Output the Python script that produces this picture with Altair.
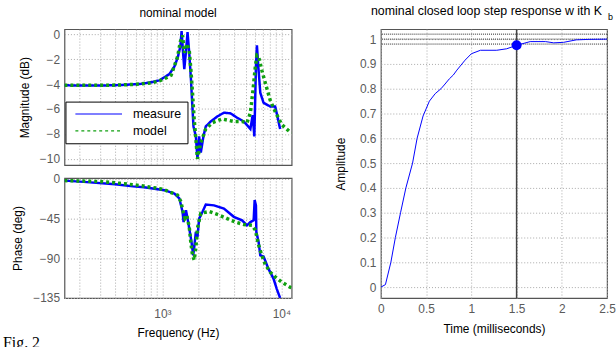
import altair as alt
import pandas as pd

# ---------------- data ----------------
mag_meas_f = [150, 203, 299, 438, 643, 810, 944, 1144, 1259, 1341,
              1413, 1448, 1490, 1526, 1576, 1625, 1679, 1735, 1789, 1823,
              1909, 1968, 2034, 2101, 2209, 2313, 2549, 2889, 3286, 3737,
              4242, 4823, 5485, 5732, 5923, 6038, 6107, 6226, 6395, 6646,
              7079, 8051, 8862, 9261, 9754]
mag_meas_db = [-4.1, -4.12, -4.12, -4.08, -4.0, -3.85, -3.7, -3.2, -2.6, -1.9,
               -1.0, 0.24, -1.5, -2.8, -1.4, 0.16, -1.5, -3.6, -6.0, -7.4,
               -8.2, -10.0, -8.2, -9.5, -8.2, -7.4, -7.0, -6.6, -6.3, -6.35,
               -6.7, -7.0, -7.6, -6.5, -8.2, -4.7, -2.6, -0.9, -2.6, -4.7,
               -5.5, -5.8, -5.8, -6.6, -7.6]

mag_model_f = [150, 299, 438, 643, 810, 944, 1050, 1182, 1341, 1413,
               1476, 1526, 1606, 1679, 1735, 1789, 1848, 1909, 1968, 2101,
               2313, 2626, 3181, 3981, 4669, 5138, 5485, 5766, 6038, 6226,
               6432, 6853, 7314, 8051, 8862, 10060, 11820, 12190]
mag_model_db = [-4.1, -4.1, -4.08, -4.0, -3.9, -3.75, -3.55, -3.3, -1.8, -0.6,
                -0.1, -1.5, -0.77, -1.3, -2.9, -4.7, -6.85, -8.4, -10.0, -8.7,
                -7.6, -7.1, -6.8, -7.0, -7.0, -7.1, -6.3, -4.5, -2.6, -1.7,
                -1.8, -2.9, -3.9, -5.3, -6.2, -7.25, -7.85, -7.9]

ph_meas_f = [150, 217, 400, 565, 700, 944, 1039, 1259, 1386, 1476,
             1505, 1576, 1625, 1679, 1755, 1813, 1848, 1909, 1968, 2034,
             2167, 2313, 2712, 3286, 3981, 4669, 5138, 5485, 5844, 5957,
             6107, 6155, 6432, 6646, 7079, 7794, 8577, 9138, 9754]
ph_meas_deg = [-2, -3.4, -6, -8.5, -9.5, -12, -12.8, -16.6, -22, -37.5,
               -49, -35.6, -45, -56, -71.6, -86.7, -78, -60, -66, -45,
               -37.5, -29, -30, -33.6, -43, -47, -52.6, -49, -47, -24,
               -30, -60, -71.6, -86.7, -88, -102, -113, -124.6, -135]

ph_model_f = [150, 299, 438, 643, 944, 1039, 1341, 1432, 1476, 1546,
              1606, 1679, 1735, 1789, 1848, 1909, 1968, 2101, 2465, 2985,
              3501, 4114, 4823, 5655, 6038, 6310, 6557, 6853, 7314, 8051,
              8862, 10060, 11820, 12190]
ph_model_deg = [-2, -3, -5, -7.5, -11, -12.5, -18.5, -26, -35, -45,
                -42, -54.5, -73, -86.7, -92, -78, -56, -39, -37, -41,
                -45, -49, -51.7, -52.6, -58, -70, -79, -86.7, -97, -105.7,
                -111, -117, -122.7, -123.5]

step_t = [0, 0.05, 0.11, 0.16, 0.217, 0.276, 0.35, 0.40, 0.466, 0.536,
          0.60, 0.664, 0.70, 0.757, 0.80, 0.84, 0.93, 1.0, 1.1, 1.28,
          1.39, 1.5, 1.65, 1.82, 1.91, 2.02, 2.16, 2.3, 2.5]
step_a = [0, 0.01, 0.1, 0.2, 0.3, 0.4, 0.5, 0.6, 0.69, 0.75,
          0.78, 0.8, 0.815, 0.84, 0.855, 0.875, 0.915, 0.941, 0.955, 0.955,
          0.961, 0.975, 0.99, 0.99, 0.985, 0.987, 0.997, 0.999, 1.0]

settle_levels = [0.98, 1.0, 1.02]
marker_t = [1.5]
marker_a = [0.975]

series_names = ["measure", "model"]
freq_ticks = [200, 300, 400, 500, 600, 700, 800, 900, 1000,
              2000, 3000, 4000, 5000, 6000, 7000, 8000, 9000, 10000]
mag_ticks = [0, -2, -4, -6, -8, -10]
phase_ticks = [0, -45, -90, -135]
amp_ticks = [0, 0.1, 0.2, 0.3, 0.4, 0.5, 0.6, 0.7, 0.8, 0.9, 1.0]
time_ticks = [0, 0.5, 1.0, 1.5, 2.0, 2.5]

# ---------------- styling ----------------
FONT = "Liberation Sans"
BLUE = "#0000ff"
GREEN = "#11a011"

df_mag_meas = pd.DataFrame({"f": mag_meas_f, "v": mag_meas_db, "s": series_names[0]})
df_mag_model = pd.DataFrame({"f": mag_model_f, "v": mag_model_db, "s": series_names[1]})
df_ph_meas = pd.DataFrame({"f": ph_meas_f, "v": ph_meas_deg})
df_ph_model = pd.DataFrame({"f": ph_model_f, "v": ph_model_deg})
df_step = pd.DataFrame({"t": step_t, "a": step_a})
df_levels = pd.DataFrame({"a": settle_levels})
df_marker = pd.DataFrame({"t": marker_t, "a": marker_a})

fscale = alt.Scale(type="log", domain=[150, 12190], nice=False)

legend = alt.Legend(
    title=None, orient="none", legendX=1, legendY=73, direction="vertical",
    fillColor="white", strokeColor="black", padding=6, clipHeight=13,
    rowPadding=4, symbolType="stroke", symbolSize=2209, symbolOffset=3,
    symbolStrokeWidth=1.2, labelOffset=10, labelFontSize=12.5,
    labelFont=FONT, labelColor="black",
)
color_enc = alt.Color("s:N", scale=alt.Scale(domain=series_names, range=[BLUE, GREEN]), legend=legend)
dash_enc = alt.StrokeDash("s:N", scale=alt.Scale(domain=series_names, range=[[1, 0], [3, 3]]), legend=legend)

mag_x = alt.X("f:Q", scale=fscale,
              axis=alt.Axis(values=freq_ticks, labels=False, title=None))
mag_y = alt.Y("v:Q", scale=alt.Scale(domain=[-10.5, 0.4], nice=False, zero=False),
              axis=alt.Axis(values=mag_ticks, title="Magnitude (dB)", titleX=-40,
                            titleBaseline="middle"))

mag_meas = alt.Chart(df_mag_meas).mark_line(strokeWidth=2.5, clip=True).encode(
    x=mag_x, y=mag_y, color=color_enc, strokeDash=dash_enc)
mag_model = alt.Chart(df_mag_model).mark_line(strokeWidth=3.5, clip=True, strokeCap="butt").encode(
    x=mag_x, y=mag_y, color=color_enc, strokeDash=dash_enc)

mag = alt.layer(mag_meas, mag_model).properties(
    width=229, height=137,
    title=alt.TitleParams("nominal model", frame="group", anchor="middle", offset=8.5),
)

ph_x = alt.X("f:Q", scale=fscale,
             axis=alt.Axis(values=freq_ticks, labelFlush=False,
                           labelExpr="datum.value == 1000 ? '10³' : (datum.value == 10000 ? '10⁴' : '')",
                           labelPadding=11, title="Frequency  (Hz)", titleY=35,
                           titleBaseline="middle"))
ph_y = alt.Y("v:Q", scale=alt.Scale(domain=[-135, 1], nice=False, zero=False),
             axis=alt.Axis(values=phase_ticks, title="Phase (deg)", titleX=-47,
                           titleBaseline="middle"))

ph_meas = alt.Chart(df_ph_meas).mark_line(color=BLUE, strokeWidth=2.5, clip=True).encode(x=ph_x, y=ph_y)
ph_model = alt.Chart(df_ph_model).mark_line(color=GREEN, strokeWidth=3.5, strokeDash=[3, 3],
                                            strokeCap="butt", clip=True).encode(x=ph_x, y=ph_y)
fig_lbl = alt.Chart(pd.DataFrame({"s": ["Fig. 2"]})).mark_text(
    font="Liberation Serif", fontSize=16, align="left", baseline="alphabetic", color="black"
).encode(text="s:N", x=alt.value(-62), y=alt.value(171))

phase = alt.layer(ph_meas, ph_model, fig_lbl).properties(width=229, height=121)

st_x = alt.X("t:Q", scale=alt.Scale(domain=[0, 2.5], nice=False),
             axis=alt.Axis(values=time_ticks, format=".1~f", labelPadding=6, labelFlush=False,
                           title="Time (milliseconds)", titleY=31, titleBaseline="middle"))
st_y = alt.Y("a:Q", scale=alt.Scale(domain=[-0.044, 1.04], nice=False, zero=False),
             axis=alt.Axis(values=amp_ticks, format=".1~f", title="Amplitude", titleX=-41,
                           titleBaseline="middle"))

st_levels = alt.Chart(df_levels).mark_rule(color="#222222", strokeWidth=1, strokeDash=[1, 1]).encode(y=st_y)
st_vline = alt.Chart(df_marker).mark_rule(color="#444444", strokeWidth=1.5).encode(x=st_x)
st_line = alt.Chart(df_step).mark_line(color=BLUE, strokeWidth=1, clip=True).encode(x=st_x, y=st_y)
st_pt = alt.Chart(df_marker).mark_circle(color=BLUE, size=100, opacity=1).encode(x=st_x, y=st_y)
st_sub = alt.Chart(pd.DataFrame({"s": ["b"]})).mark_text(
    font=FONT, fontSize=9, align="left", baseline="alphabetic", color="black"
).encode(text="s:N", x=alt.value(229), y=alt.value(-9))

step = alt.layer(st_levels, st_vline, st_line, st_pt, st_sub).properties(
    width=228, height=271,
    title=alt.TitleParams("nominal closed loop step response w ith K", frame="group",
                          anchor="start", dx=-10, offset=-4.5, fontSize=12.5),
)

# with flush bounds the nested column counts as zero width, so the gap spans it
left = alt.vconcat(mag, phase, spacing=13, bounds="flush")
chart = alt.hconcat(left, step, spacing=319, bounds="flush").properties(
    padding={"left": 2, "top": 3, "right": 0, "bottom": 0}
).configure(font=FONT).configure_view(
    stroke="#555555", strokeWidth=1.2
).configure_axis(
    labelFont=FONT, labelFontSize=12, labelColor="#5a5a5a",
    titleFont=FONT, titleFontSize=12, titleFontWeight="normal", titleColor="black",
    grid=True, gridColor="#a8a8a8", gridDash=[1, 2], gridWidth=1,
    ticks=False, tickSize=0, domain=False, labelPadding=5,
).configure_title(
    font=FONT, fontSize=12, fontWeight="normal", color="black"
)

chart.save("out.html", embed_options={"renderer": "svg", "actions": False})
